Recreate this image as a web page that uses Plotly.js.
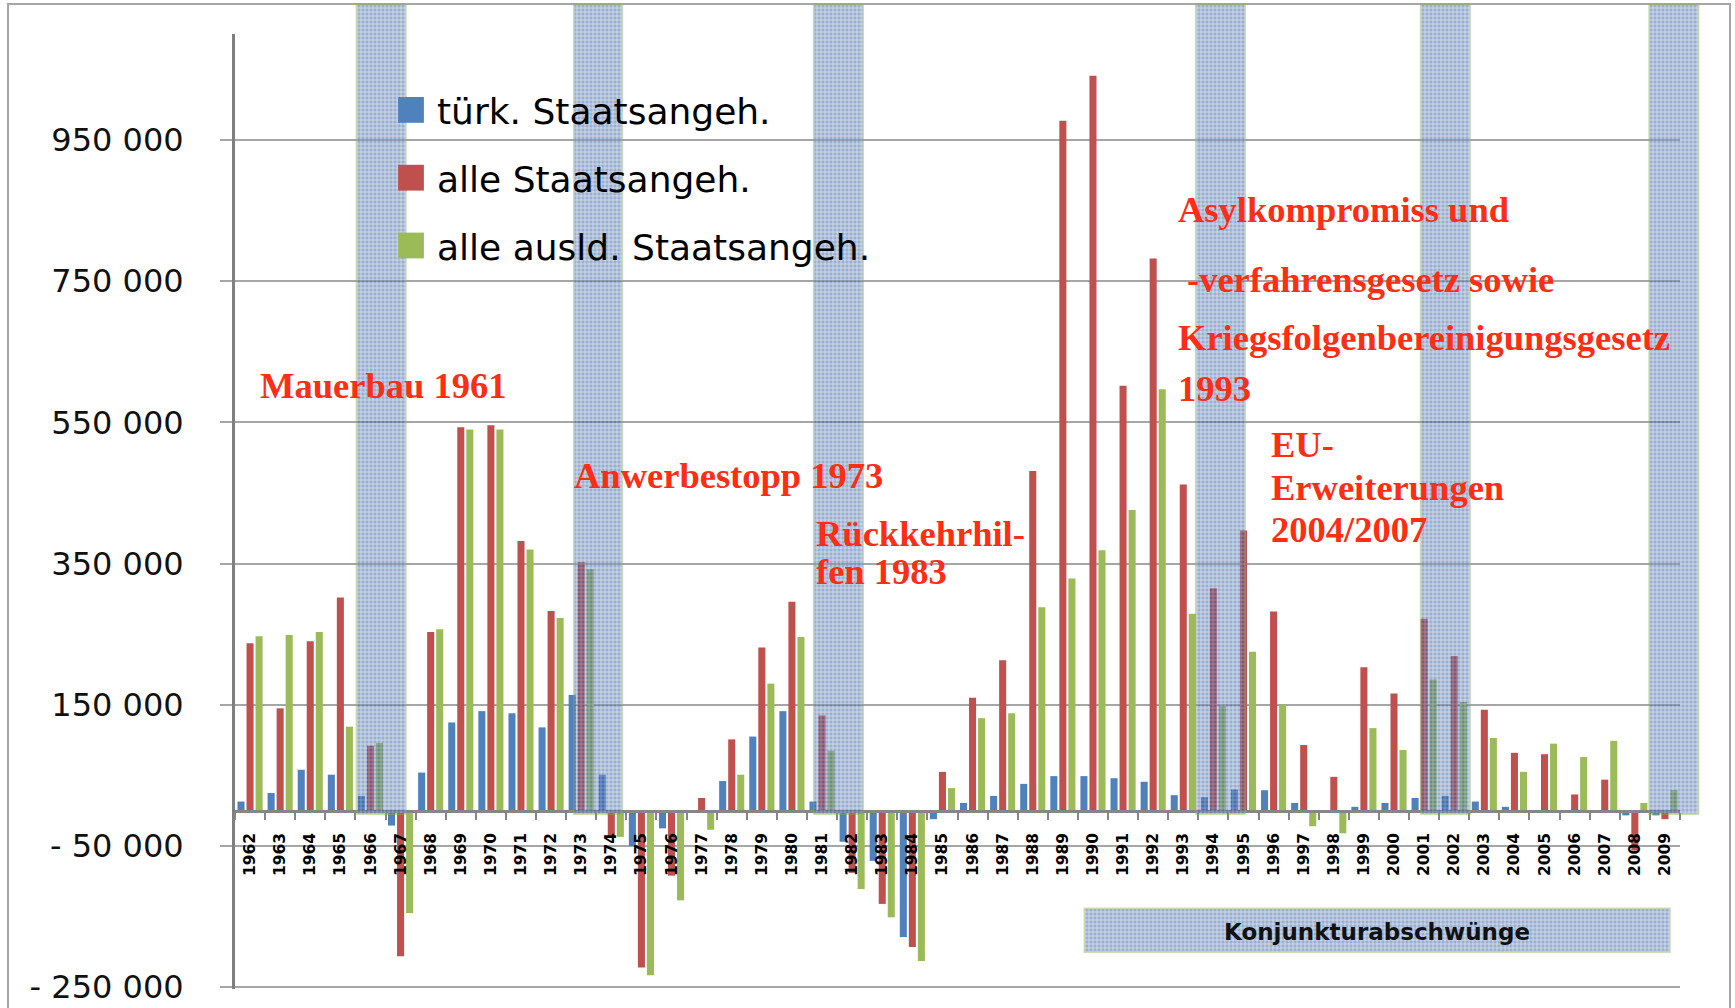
<!DOCTYPE html>
<html>
<head>
<meta charset="utf-8">
<script src="https://cdn.plot.ly/plotly-3.0.1.min.js"></script>
<style>
  html, body { margin: 0; padding: 0; background: #ffffff; }
  #chart { width: 1735px; height: 1008px; }
</style>
</head>
<body>
<div id="chart"></div>
<script>
// ---------------- data ----------------
const years = ['1962','1963','1964','1965','1966','1967','1968','1969','1970','1971','1972','1973',
  '1974','1975','1976','1977','1978','1979','1980','1981','1982','1983','1984','1985',
  '1986','1987','1988','1989','1990','1991','1992','1993','1994','1995','1996','1997',
  '1998','1999','2000','2001','2002','2003','2004','2005','2006','2007','2008','2009'];

// türk. Staatsangeh.
const turk = [13000, 25000, 58000, 51000, 21000, -21000, 54000, 125000, 141000, 138000, 118000, 164000,
  51000, -50000, -25000, 0, 42000, 105000, 141000, 13000, -44000, -71000, -179000, -12000,
  11000, 21000, 38000, 49000, 49000, 46000, 41000, 22000, 19000, 30000, 29000, 11000,
  0, 5500, 11000, 18000, 21000, 13000, 5500, 0, 0, 0, -6600, -6600];

// alle Staatsangeh.
const alle = [237000, 145000, 240000, 302000, 92000, -206000, 253000, 543000, 546000, 382000, 283000, 352000,
  -35000, -222000, -92000, 18000, 101000, 231000, 296000, 135000, -88000, -132000, -193000, 55000,
  160000, 213000, 481000, 977000, 1041000, 602000, 782000, 462000, 315000, 397000, 282000, 93000,
  48000, 203000, 166000, 272000, 219000, 143000, 82000, 80000, 23000, 44000, -56000, -12000];

// alle ausld. Staatsangeh.
const ausl = [247000, 249000, 253000, 119000, 96000, -145000, 257000, 540000, 540000, 370000, 273000, 342000,
  -37000, -233000, -127000, -27000, 51000, 180000, 246000, 85000, -111000, -151000, -213000, 32000,
  131000, 138000, 288000, 329000, 369000, 426000, 597000, 279000, 148000, 225000, 150000, -22000,
  -32000, 117000, 86000, 186000, 154000, 103000, 55000, 95000, 76000, 99000, 11000, 29000];

const seriesNames = ['türk. Staatsangeh.', 'alle Staatsangeh.', 'alle ausld. Staatsangeh.'];

const yTickVals = [-250000, -50000, 150000, 350000, 550000, 750000, 950000];
const yTickText = ['- 250 000', '- 50 000', '150 000', '350 000', '550 000', '750 000', '950 000'];

// Konjunkturabschwünge bands (category-index units on the x axis)
const bandFrom = [3.53, 10.75, 18.72, 31.41, 38.88, 46.47];
const bandTo   = [5.18, 12.37, 20.37, 33.06, 40.53, 48.12];
const bandBottom = -5000;
const bandTop = 1142000;

// Konjunkturabschwünge legend box
const boxFrom = 27.71, boxTo = 47.17, boxBottom = -200600, boxTop = -138100;
const boxLabel = 'Konjunkturabschwünge';

// red annotations: [text, x (category index), y (value)]
const notes = [
  ['Mauerbau 1961', 0.28, 602800],
  ['Anwerbestopp 1973', 10.70, 475100],
  ['Rückkehrhil-', 18.74, 392000],
  ['fen 1983', 18.74, 338100],
  ['Asylkompromiss und', 30.76, 851200],
  ['-verfahrensgesetz sowie', 31.06, 751800],
  ['Kriegsfolgenbereinigungsgesetz', 30.76, 669500],
  ['1993', 30.76, 598600],
  ['EU-', 33.86, 518200],
  ['Erweiterungen', 33.86, 458100],
  ['2004/2007', 33.86, 398500]
];

// ---------------- layout geometry (pixels) ----------------
const W = 1735, H = 1008;
const plotLeft = 235, plotRight = 1680, plotTop = 34, plotBottom = 989;   // main chart area
const outerRight = 1702, outerTop = 2;                                    // area for the bands
const yMin = -252500, yMax = 1100000;

const areaW = outerRight - plotLeft, areaH = plotBottom - outerTop;
const M = {l: plotLeft, r: W - outerRight, t: outerTop, b: H - plotBottom};
const xDomTop = (plotRight - plotLeft) / areaW;
const yDomTop = (plotBottom - plotTop) / areaH;
const sx = (plotRight - plotLeft) / years.length;        // px per category
const sy = (plotBottom - plotTop) / (yMax - yMin);       // px per unit
const px2paperX = px => (px - plotLeft) / areaW;
const px2paperY = py => (plotBottom - py) / areaH;

const colors = ['#4f81bd', '#c0504d', '#9bbb59'];
const values = [turk, alle, ausl];

const traces = values.map((v, i) => ({
  type: 'bar',
  name: seriesNames[i],
  x: years,
  y: v,
  marker: {color: colors[i]},
  legendgroup: 'g' + i,
  hoverinfo: 'skip'
}));

// pattern bands + box as one decorative bar trace on its own (same-scale) axes
const bx = [], bw = [], bb = [], bh = [];
for (let i = 0; i < bandFrom.length; i++) {
  bx.push((bandFrom[i] + bandTo[i]) / 2);
  bw.push(bandTo[i] - bandFrom[i]);
  bb.push(bandBottom);
  bh.push(bandTop - bandBottom);
}
bx.push((boxFrom + boxTo) / 2); bw.push(boxTo - boxFrom); bb.push(boxBottom); bh.push(boxTop - boxBottom);

traces.push({
  type: 'bar',
  xaxis: 'x2', yaxis: 'y2',
  x: bx, width: bw, base: bb, y: bh,
  marker: {
    color: '#3d62a3',
    opacity: 0.5,
    line: {color: 'rgba(140,180,80,0.8)', width: 1.5},
    pattern: {shape: '+', size: 4, solidity: 0.25, fgcolor: '#e4eaf4', bgcolor: '#3d62a3'}
  },
  cliponaxis: false,
  showlegend: false,
  hoverinfo: 'skip'
});

const annotations = notes.map(n => ({
  text: n[0], x: n[1], y: n[2], xref: 'x', yref: 'y',
  xanchor: 'left', yanchor: 'middle', showarrow: false,
  font: {family: 'Liberation Serif', size: 36.5, color: '#ff2d14', weight: 700}
}));
annotations.push({
  text: boxLabel, x: (boxFrom + boxTo) / 2, y: (boxBottom + boxTop) / 2 - 3000, xref: 'x', yref: 'y',
  xanchor: 'center', yanchor: 'middle', showarrow: false,
  font: {family: 'DejaVu Sans', size: 23, color: '#111111', weight: 700}
});

const layout = {
  width: W, height: H,
  margin: M,
  paper_bgcolor: '#ffffff',
  plot_bgcolor: 'rgba(0,0,0,0)',
  barmode: 'group',
  bargap: 0.1,
  bargroupgap: 0.22,
  showlegend: true,
  legend: {
    x: px2paperX(385), y: px2paperY(80), xanchor: 'left', yanchor: 'top',
    font: {family: 'DejaVu Sans', size: 36, color: '#000000'},
    bgcolor: 'rgba(0,0,0,0)',
    traceorder: 'grouped',
    tracegroupgap: 18,
    itemwidth: 42
  },
  xaxis: {
    type: 'category',
    categoryorder: 'array', categoryarray: years,
    range: [-0.5, years.length - 0.5],
    domain: [0, xDomTop],
    anchor: 'free',
    position: yDomTop * (0 - yMin) / (yMax - yMin),
    showline: true, linecolor: '#868686', linewidth: 3,
    ticks: 'outside', tickson: 'boundaries', ticklen: 7, tickwidth: 2, tickcolor: '#868686',
    tickangle: -90,
    tickfont: {family: 'DejaVu Sans', size: 15.5, color: '#000000', weight: 700},
    ticklabelstandoff: 14,
    showgrid: false, zeroline: false, fixedrange: true
  },
  yaxis: {
    range: [yMin, yMax],
    domain: [0, yDomTop],
    anchor: 'x',
    tickmode: 'array', tickvals: yTickVals, ticktext: yTickText,
    showgrid: true, gridcolor: '#a6a6a6', gridwidth: 2,
    zeroline: false,
    showline: true, linecolor: '#7f7f7f', linewidth: 3,
    ticks: 'outside', ticklen: 12, tickwidth: 2, tickcolor: '#a6a6a6',
    tickfont: {family: 'DejaVu Sans', size: 32, color: '#111111'},
    ticklabelstandoff: 30,
    fixedrange: true
  },
  xaxis2: {
    type: 'linear', anchor: 'y2', domain: [0, 1],
    range: [-0.5, -0.5 + areaW / sx],
    visible: false, fixedrange: true
  },
  yaxis2: {
    type: 'linear', anchor: 'x2', domain: [0, 1],
    range: [yMin, yMin + areaH / sy],
    visible: false, fixedrange: true
  },
  annotations: annotations,
  shapes: [{
    type: 'rect', xref: 'paper', yref: 'paper', layer: 'below',
    x0: px2paperX(8), x1: px2paperX(1730), y0: px2paperY(1040), y1: px2paperY(4),
    line: {color: '#a6a6a6', width: 2}, fillcolor: 'rgba(0,0,0,0)'
  }]
};

Plotly.newPlot('chart', traces, layout, {staticPlot: true, displayModeBar: false}).then(gd => {
  gd.querySelectorAll('.legend .legendpoints path').forEach(p => {
    const t = p.getAttribute('transform') || '';
    p.setAttribute('transform', t + ' scale(2.15)');
  });
});
</script>
</body>
</html>
